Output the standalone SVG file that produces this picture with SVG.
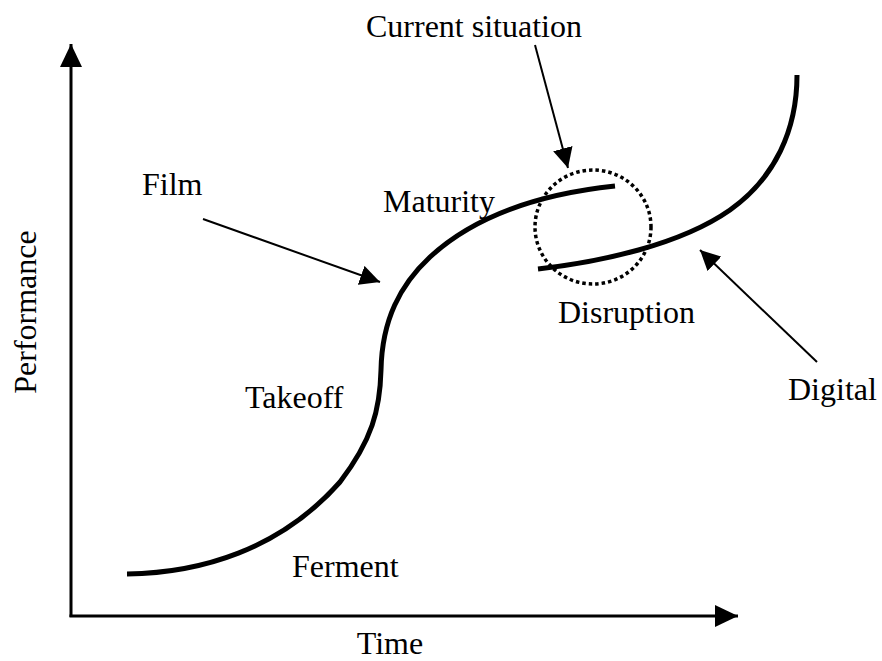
<svg xmlns="http://www.w3.org/2000/svg" width="882" height="661" viewBox="0 0 882 661">
  <defs>
    <style>
      text { font-family: "Liberation Serif", "Times New Roman", serif; font-size: 32px; fill: #000; }
      .curve { fill: none; stroke: #000; stroke-width: 5; stroke-linecap: butt; }
      .axis { fill: none; stroke: #000; stroke-width: 3; }
      .pointer { fill: none; stroke: #000; stroke-width: 2; }
      .dotted { fill: none; stroke: #000; stroke-width: 3.5; stroke-dasharray: 3.5 3; }
    </style>
    <marker id="axisHead" viewBox="0 0 23 22" refX="23" refY="11" markerWidth="23" markerHeight="22" markerUnits="userSpaceOnUse" orient="auto">
      <path d="M0,0 L23,11 L0,22 z" fill="#000"/>
    </marker>
    <marker id="ptrHead" viewBox="0 0 20 20" refX="20" refY="10" markerWidth="20" markerHeight="20" markerUnits="userSpaceOnUse" orient="auto">
      <path d="M0,0 L20,10 L0,20 z" fill="#000"/>
    </marker>
  </defs>
  <rect width="882" height="661" fill="#fff"/>

  <g id="axes">
    <path class="axis" d="M71,617 L71,44" marker-end="url(#axisHead)"/>
    <path class="axis" d="M69.5,616 L738,616" marker-end="url(#axisHead)"/>
    <text id="label-time" x="390" y="654" text-anchor="middle">Time</text>
    <text id="label-performance" transform="translate(36,312) rotate(-90)" text-anchor="middle">Performance</text>
  </g>

  <g id="film-curve">
    <path class="curve" d="M127,574 C200,573 280,550 340,482 C372,440 380,410 381,370 C382,320 400,285 430,257 C470,220 530,195 615,186"/>
  </g>

  <g id="digital-curve">
    <path class="curve" d="M538,269 C600,262 680,245 730,210 C775,178 797,130 797,75"/>
  </g>

  <g id="current-situation-circle">
    <ellipse class="dotted" cx="593" cy="227" rx="58" ry="57"/>
  </g>

  <g id="connectors">
    <line class="pointer" x1="535" y1="45" x2="568" y2="168" marker-end="url(#ptrHead)"/>
    <line class="pointer" x1="203" y1="219" x2="380" y2="282" marker-end="url(#ptrHead)"/>
    <line class="pointer" x1="817" y1="362" x2="700" y2="250" marker-end="url(#ptrHead)"/>
  </g>

  <g id="node-current-situation"><text x="366" y="37">Current situation</text></g>
  <g id="node-film"><text x="142" y="195">Film</text></g>
  <g id="node-maturity"><text x="383" y="212">Maturity</text></g>
  <g id="node-takeoff"><text x="245" y="408">Takeoff</text></g>
  <g id="node-ferment"><text x="292" y="577">Ferment</text></g>
  <g id="node-disruption"><text x="558" y="323">Disruption</text></g>
  <g id="node-digital"><text x="788" y="400">Digital</text></g>
</svg>
